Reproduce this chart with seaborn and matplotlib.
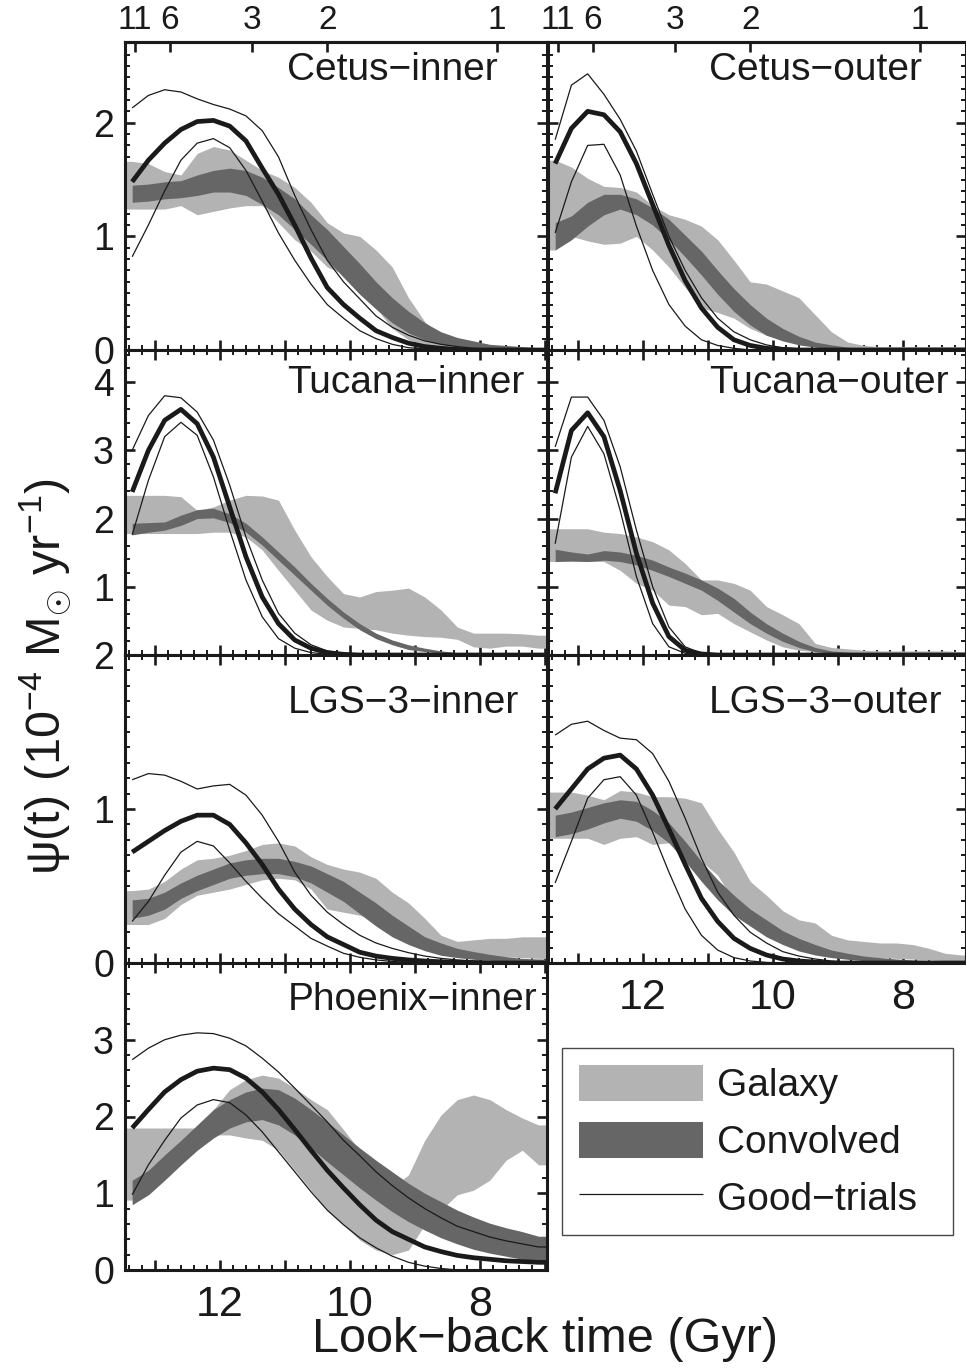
import numpy as np
import matplotlib
matplotlib.use("Agg")
import matplotlib.pyplot as plt
import seaborn as sns
from matplotlib.ticker import MultipleLocator, FuncFormatter, NullLocator
from matplotlib.patches import Patch
from matplotlib.lines import Line2D

# look-back time grid (Gyr)
T = [13.35, 13.1, 12.85, 12.6, 12.35, 12.1, 11.85, 11.6, 11.35, 11.1, 10.85, 10.6, 10.35,
     10.1, 9.85, 9.6, 9.35, 9.1, 8.85, 8.6, 8.35, 8.1, 7.85, 7.6, 7.35, 7.1]

# redshift axis on top
Z_LABELS = ["11", "6", "3", "2", "1"]
Z_TIMES = [13.31, 12.77, 11.51, 10.35, 7.74]
X_LABELED = [12, 10, 8]

# ---- Cetus-inner
cet_in_gal_lo = [1.24, 1.24, 1.24, 1.27, 1.19, 1.22, 1.25, 1.27, 1.27, 1.12, 0.97, 0.87, 0.73, 0.67, 0.57, 0.37, 0.19, 0.09, 0.04, 0.02, 0, 0, 0, 0, 0, 0]
cet_in_gal_hi = [1.66, 1.64, 1.57, 1.54, 1.73, 1.79, 1.76, 1.67, 1.58, 1.52, 1.43, 1.30, 1.12, 1.03, 1.00, 0.88, 0.73, 0.46, 0.25, 0.10, 0.06, 0.03, 0.01, 0.01, 0.01, 0.01]
cet_in_conv_lo = [1.30, 1.31, 1.33, 1.34, 1.36, 1.39, 1.39, 1.36, 1.28, 1.19, 1.06, 0.93, 0.79, 0.64, 0.49, 0.36, 0.24, 0.15, 0.09, 0.05, 0.03, 0.015, 0.01, 0.005, 0, 0]
cet_in_conv_hi = [1.45, 1.46, 1.48, 1.49, 1.54, 1.58, 1.60, 1.58, 1.52, 1.43, 1.33, 1.19, 1.06, 0.91, 0.76, 0.60, 0.46, 0.34, 0.24, 0.16, 0.11, 0.08, 0.05, 0.04, 0.03, 0.02]
cet_in_best = [1.48, 1.67, 1.82, 1.94, 2.01, 2.02, 1.97, 1.84, 1.60, 1.37, 1.10, 0.81, 0.55, 0.40, 0.28, 0.17, 0.11, 0.06, 0.03, 0.015, 0.005, 0, 0, 0, 0, 0]
cet_in_trial_hi = [2.13, 2.24, 2.29, 2.27, 2.21, 2.16, 2.12, 2.06, 1.93, 1.70, 1.36, 1.06, 0.79, 0.60, 0.45, 0.30, 0.20, 0.13, 0.08, 0.05, 0.03, 0.015, 0.008, 0, 0, 0]
cet_in_trial_lo = [0.82, 1.10, 1.40, 1.67, 1.82, 1.86, 1.78, 1.58, 1.31, 1.03, 0.79, 0.58, 0.40, 0.28, 0.17, 0.10, 0.05, 0.02, 0.01, 0, 0, 0, 0, 0, 0, 0]

# ---- Cetus-outer
cet_out_gal_lo = [0.88, 1.00, 0.96, 0.93, 0.94, 1.00, 0.88, 0.73, 0.55, 0.37, 0.33, 0.28, 0.19, 0.13, 0.09, 0.06, 0.03, 0, 0, 0, 0, 0, 0, 0, 0, 0]
cet_out_gal_hi = [1.67, 1.61, 1.51, 1.44, 1.43, 1.39, 1.27, 1.19, 1.15, 1.09, 0.97, 0.79, 0.60, 0.58, 0.52, 0.46, 0.31, 0.16, 0.07, 0.04, 0.03, 0.03, 0.03, 0.03, 0.03, 0.03]
cet_out_conv_lo = [0.88, 0.97, 1.09, 1.19, 1.24, 1.19, 1.10, 0.97, 0.82, 0.66, 0.49, 0.34, 0.22, 0.13, 0.08, 0.045, 0.025, 0.012, 0, 0, 0, 0, 0, 0, 0, 0]
cet_out_conv_hi = [1.12, 1.18, 1.30, 1.37, 1.37, 1.33, 1.25, 1.15, 1.01, 0.87, 0.70, 0.54, 0.40, 0.28, 0.19, 0.12, 0.07, 0.045, 0.025, 0.015, 0.01, 0.005, 0, 0, 0, 0]
cet_out_best = [1.64, 1.95, 2.10, 2.07, 1.92, 1.64, 1.28, 0.92, 0.61, 0.37, 0.20, 0.09, 0.04, 0.015, 0.005, 0, 0, 0, 0, 0, 0, 0, 0, 0, 0, 0]
cet_out_trial_hi = [1.85, 2.33, 2.43, 2.25, 2.03, 1.75, 1.37, 1.00, 0.70, 0.46, 0.28, 0.16, 0.09, 0.045, 0.02, 0.01, 0, 0, 0, 0, 0, 0, 0, 0, 0, 0]
cet_out_trial_lo = [1.03, 1.48, 1.80, 1.81, 1.54, 1.09, 0.70, 0.40, 0.21, 0.09, 0.04, 0.015, 0, 0, 0, 0, 0, 0, 0, 0, 0, 0, 0, 0, 0, 0]

# ---- Tucana-inner
tuc_in_gal_lo = [1.78, 1.78, 1.78, 1.78, 1.78, 1.80, 1.80, 1.73, 1.54, 1.24, 0.95, 0.66, 0.51, 0.41, 0.39, 0.37, 0.32, 0.29, 0.27, 0.26, 0.23, 0.12, 0.10, 0.13, 0.13, 0.10]
tuc_in_gal_hi = [2.34, 2.34, 2.34, 2.32, 2.12, 2.17, 2.27, 2.34, 2.33, 2.27, 1.83, 1.44, 1.15, 0.90, 0.85, 0.93, 0.95, 0.98, 0.85, 0.66, 0.41, 0.32, 0.32, 0.32, 0.31, 0.29]
tuc_in_conv_lo = [1.76, 1.80, 1.83, 1.90, 2.00, 2.01, 1.94, 1.80, 1.61, 1.39, 1.17, 0.95, 0.73, 0.54, 0.37, 0.24, 0.15, 0.08, 0.05, 0.025, 0.01, 0, 0, 0, 0, 0]
tuc_in_conv_hi = [1.93, 1.94, 1.95, 2.05, 2.13, 2.15, 2.07, 1.93, 1.73, 1.51, 1.29, 1.05, 0.83, 0.63, 0.46, 0.32, 0.22, 0.15, 0.10, 0.06, 0.035, 0.02, 0.01, 0.005, 0.005, 0.005]
tuc_in_best = [2.39, 3.00, 3.44, 3.60, 3.39, 2.90, 2.17, 1.44, 0.85, 0.46, 0.22, 0.10, 0.035, 0.01, 0, 0, 0, 0, 0, 0, 0, 0, 0, 0, 0, 0]
tuc_in_trial_hi = [3.00, 3.51, 3.80, 3.77, 3.56, 3.15, 2.49, 1.73, 1.10, 0.61, 0.32, 0.15, 0.06, 0.025, 0.01, 0, 0, 0, 0, 0, 0, 0, 0, 0, 0, 0]
tuc_in_trial_lo = [1.76, 2.56, 3.20, 3.41, 3.22, 2.61, 1.83, 1.10, 0.56, 0.24, 0.10, 0.035, 0.01, 0, 0, 0, 0, 0, 0, 0, 0, 0, 0, 0, 0, 0]

# ---- Tucana-outer
tuc_out_gal_lo = [1.37, 1.37, 1.37, 1.37, 1.24, 1.05, 0.95, 0.73, 0.71, 0.59, 0.61, 0.46, 0.34, 0.22, 0.12, 0.07, 0.05, 0.035, 0.03, 0.03, 0.03, 0.03, 0.03, 0.03, 0.03, 0.03]
tuc_out_gal_hi = [1.85, 1.85, 1.85, 1.80, 1.78, 1.73, 1.66, 1.54, 1.34, 1.10, 1.10, 1.05, 0.95, 0.71, 0.59, 0.46, 0.17, 0.11, 0.09, 0.07, 0.06, 0.06, 0.06, 0.06, 0.06, 0.05]
tuc_out_conv_lo = [1.37, 1.38, 1.37, 1.39, 1.37, 1.32, 1.24, 1.15, 1.05, 0.95, 0.80, 0.63, 0.46, 0.32, 0.20, 0.11, 0.05, 0.025, 0.01, 0, 0, 0, 0, 0, 0, 0]
tuc_out_conv_hi = [1.55, 1.51, 1.48, 1.53, 1.51, 1.46, 1.39, 1.29, 1.20, 1.10, 0.98, 0.83, 0.63, 0.46, 0.32, 0.20, 0.11, 0.06, 0.04, 0.025, 0.015, 0.01, 0.005, 0.005, 0.005, 0.005]
tuc_out_best = [2.37, 3.29, 3.55, 3.20, 2.41, 1.49, 0.76, 0.27, 0.07, 0.015, 0, 0, 0, 0, 0, 0, 0, 0, 0, 0, 0, 0, 0, 0, 0, 0]
tuc_out_trial_hi = [3.05, 3.78, 3.78, 3.44, 2.76, 1.83, 1.00, 0.41, 0.12, 0.025, 0.005, 0, 0, 0, 0, 0, 0, 0, 0, 0, 0, 0, 0, 0, 0, 0]
tuc_out_trial_lo = [1.63, 2.90, 3.35, 2.95, 2.12, 1.15, 0.46, 0.12, 0.025, 0, 0, 0, 0, 0, 0, 0, 0, 0, 0, 0, 0, 0, 0, 0, 0, 0]

# ---- LGS-3-inner
lgs_in_gal_lo = [0.25, 0.25, 0.29, 0.38, 0.44, 0.46, 0.48, 0.51, 0.54, 0.55, 0.54, 0.48, 0.35, 0.33, 0.31, 0.28, 0.23, 0.17, 0.13, 0.095, 0.07, 0.05, 0.04, 0.04, 0.035, 0.03]
lgs_in_gal_hi = [0.47, 0.48, 0.53, 0.61, 0.67, 0.68, 0.70, 0.73, 0.77, 0.78, 0.76, 0.69, 0.64, 0.61, 0.59, 0.55, 0.46, 0.39, 0.29, 0.18, 0.14, 0.15, 0.16, 0.16, 0.17, 0.17]
lgs_in_conv_lo = [0.29, 0.31, 0.35, 0.42, 0.47, 0.51, 0.55, 0.57, 0.58, 0.58, 0.56, 0.52, 0.46, 0.40, 0.32, 0.24, 0.17, 0.12, 0.08, 0.05, 0.035, 0.024, 0.017, 0.012, 0.01, 0.008]
lgs_in_conv_hi = [0.41, 0.42, 0.46, 0.52, 0.57, 0.61, 0.65, 0.67, 0.68, 0.68, 0.66, 0.63, 0.58, 0.53, 0.46, 0.39, 0.31, 0.24, 0.17, 0.13, 0.095, 0.074, 0.056, 0.041, 0.03, 0.026]
lgs_in_best = [0.72, 0.79, 0.86, 0.92, 0.96, 0.96, 0.90, 0.78, 0.64, 0.48, 0.35, 0.25, 0.17, 0.12, 0.07, 0.045, 0.03, 0.02, 0.013, 0.008, 0.005, 0.003, 0, 0, 0, 0]
lgs_in_trial_hi = [1.19, 1.23, 1.22, 1.18, 1.13, 1.15, 1.16, 1.09, 0.96, 0.79, 0.59, 0.44, 0.33, 0.25, 0.18, 0.13, 0.095, 0.067, 0.045, 0.03, 0.02, 0.013, 0.009, 0.005, 0.003, 0.002]
lgs_in_trial_lo = [0.27, 0.40, 0.57, 0.72, 0.79, 0.76, 0.65, 0.53, 0.42, 0.32, 0.24, 0.16, 0.11, 0.063, 0.037, 0.02, 0.01, 0.005, 0, 0, 0, 0, 0, 0, 0, 0]

# ---- LGS-3-outer
lgs_out_gal_lo = [0.81, 0.81, 0.81, 0.77, 0.81, 0.82, 0.77, 0.78, 0.72, 0.66, 0.57, 0.40, 0.27, 0.20, 0.15, 0.12, 0.09, 0.067, 0.052, 0.04, 0.035, 0.03, 0.025, 0.02, 0.015, 0.01]
lgs_out_gal_hi = [1.11, 1.11, 1.09, 1.06, 1.12, 1.11, 1.08, 1.08, 1.07, 1.04, 0.87, 0.72, 0.53, 0.44, 0.34, 0.28, 0.26, 0.18, 0.15, 0.14, 0.13, 0.13, 0.12, 0.095, 0.063, 0.052]
lgs_out_conv_lo = [0.82, 0.84, 0.87, 0.91, 0.94, 0.92, 0.86, 0.78, 0.66, 0.53, 0.41, 0.31, 0.24, 0.17, 0.12, 0.078, 0.052, 0.035, 0.024, 0.015, 0.01, 0.005, 0.005, 0.005, 0.005, 0.005]
lgs_out_conv_hi = [0.96, 0.98, 1.01, 1.04, 1.06, 1.05, 0.99, 0.91, 0.79, 0.66, 0.54, 0.44, 0.35, 0.28, 0.21, 0.16, 0.12, 0.084, 0.063, 0.045, 0.035, 0.026, 0.02, 0.016, 0.012, 0.01]
lgs_out_best = [1.00, 1.13, 1.26, 1.33, 1.35, 1.26, 1.09, 0.87, 0.64, 0.42, 0.27, 0.16, 0.095, 0.052, 0.026, 0.013, 0.006, 0, 0, 0, 0, 0, 0, 0, 0, 0]
lgs_out_trial_hi = [1.48, 1.55, 1.57, 1.51, 1.46, 1.45, 1.36, 1.18, 0.94, 0.68, 0.46, 0.31, 0.20, 0.13, 0.074, 0.045, 0.026, 0.013, 0.006, 0.003, 0, 0, 0, 0, 0, 0]
lgs_out_trial_lo = [0.52, 0.79, 1.07, 1.19, 1.21, 1.09, 0.85, 0.59, 0.35, 0.18, 0.084, 0.035, 0.013, 0.004, 0, 0, 0, 0, 0, 0, 0, 0, 0, 0, 0, 0]

# ---- Phoenix-inner
phx_in_gal_lo = [0.91, 1.11, 1.37, 1.63, 1.76, 1.76, 1.76, 1.72, 1.69, 1.56, 1.30, 1.04, 0.78, 0.59, 0.39, 0.26, 0.20, 0.26, 0.59, 0.78, 0.98, 1.04, 1.17, 1.43, 1.56, 1.37]
phx_in_gal_hi = [1.85, 1.85, 1.85, 1.85, 1.85, 2.09, 2.35, 2.48, 2.54, 2.50, 2.37, 2.22, 2.09, 1.83, 1.56, 1.30, 1.07, 1.24, 1.69, 2.02, 2.22, 2.28, 2.22, 2.09, 1.98, 1.89]
phx_in_conv_lo = [0.85, 0.98, 1.17, 1.37, 1.56, 1.72, 1.85, 1.93, 1.96, 1.89, 1.76, 1.59, 1.41, 1.24, 1.07, 0.91, 0.76, 0.63, 0.52, 0.42, 0.34, 0.27, 0.22, 0.18, 0.14, 0.12]
phx_in_conv_hi = [1.17, 1.30, 1.50, 1.69, 1.89, 2.09, 2.22, 2.32, 2.37, 2.35, 2.24, 2.09, 1.93, 1.76, 1.59, 1.43, 1.28, 1.13, 1.00, 0.89, 0.78, 0.69, 0.61, 0.55, 0.50, 0.44]
phx_in_best = [1.85, 2.09, 2.32, 2.48, 2.59, 2.63, 2.61, 2.50, 2.32, 2.09, 1.83, 1.56, 1.30, 1.07, 0.85, 0.65, 0.50, 0.40, 0.30, 0.24, 0.19, 0.16, 0.14, 0.12, 0.11, 0.10]
phx_in_trial_hi = [2.74, 2.89, 3.00, 3.06, 3.09, 3.08, 3.02, 2.92, 2.76, 2.58, 2.37, 2.15, 1.93, 1.69, 1.49, 1.28, 1.10, 0.94, 0.80, 0.68, 0.57, 0.50, 0.43, 0.38, 0.34, 0.30]
phx_in_trial_lo = [0.98, 1.37, 1.69, 1.98, 2.15, 2.22, 2.18, 2.02, 1.80, 1.54, 1.28, 1.02, 0.78, 0.59, 0.42, 0.29, 0.18, 0.10, 0.05, 0.02, 0, 0, 0, 0, 0, 0]

NAMES = ["Cetus\u2212inner", "Cetus\u2212outer", "Tucana\u2212inner", "Tucana\u2212outer",
         "LGS\u22123\u2212inner", "LGS\u22123\u2212outer", "Phoenix\u2212inner"]
SERIES = [
    (cet_in_gal_lo, cet_in_gal_hi, cet_in_conv_lo, cet_in_conv_hi, cet_in_best, cet_in_trial_hi, cet_in_trial_lo),
    (cet_out_gal_lo, cet_out_gal_hi, cet_out_conv_lo, cet_out_conv_hi, cet_out_best, cet_out_trial_hi, cet_out_trial_lo),
    (tuc_in_gal_lo, tuc_in_gal_hi, tuc_in_conv_lo, tuc_in_conv_hi, tuc_in_best, tuc_in_trial_hi, tuc_in_trial_lo),
    (tuc_out_gal_lo, tuc_out_gal_hi, tuc_out_conv_lo, tuc_out_conv_hi, tuc_out_best, tuc_out_trial_hi, tuc_out_trial_lo),
    (lgs_in_gal_lo, lgs_in_gal_hi, lgs_in_conv_lo, lgs_in_conv_hi, lgs_in_best, lgs_in_trial_hi, lgs_in_trial_lo),
    (lgs_out_gal_lo, lgs_out_gal_hi, lgs_out_conv_lo, lgs_out_conv_hi, lgs_out_best, lgs_out_trial_hi, lgs_out_trial_lo),
    (phx_in_gal_lo, phx_in_gal_hi, phx_in_conv_lo, phx_in_conv_hi, phx_in_best, phx_in_trial_hi, phx_in_trial_lo),
]

# ---- layout (pixels of the 966x1368 figure)
W, H = 966, 1368
COL_X = [(125, 422), (548, 418)]
ROW_Y = [(42, 350), (350, 655), (655, 963), (963, 1270)]
XLIM = [(13.46, 6.97), (13.46, 7.03)]
YMAX = [2.71, 4.47, 2.0, 4.0]
YMINOR = [0.1, 0.2, 0.1, 0.2]
YHIDE = [[], [0], [], [4]]
NAME_Y = [0.909, 0.892, 0.844, 0.879]

GAL_C = "#b3b3b3"
CONV_C = "#666666"

sns.set_theme(style="ticks")
plt.rcParams.update({
    "font.family": ["Liberation Sans", "DejaVu Sans"],
    "mathtext.fontset": "custom",
    "mathtext.rm": "Liberation Sans",
    "mathtext.it": "Liberation Sans",
    "text.color": "black",
    "axes.labelcolor": "black",
    "axes.edgecolor": "black",
    "xtick.color": "black",
    "ytick.color": "black",
    "xtick.labelcolor": "black",
    "ytick.labelcolor": "black",
    "lines.solid_joinstyle": "round",
    "lines.solid_capstyle": "butt",
})

fig = plt.figure(figsize=(W / 100, H / 100), dpi=100)


def style_axes(ax, row, col):
    ax.set_xlim(*XLIM[col])
    ax.set_ylim(0, YMAX[row])
    ax.xaxis.set_major_locator(MultipleLocator(1))
    ax.xaxis.set_minor_locator(MultipleLocator(0.2))
    ax.yaxis.set_major_locator(MultipleLocator(1))
    ax.yaxis.set_minor_locator(MultipleLocator(YMINOR[row]))
    ax.xaxis.set_major_formatter(FuncFormatter(
        lambda v, p: f"{v:.0f}" if int(round(v)) in X_LABELED else ""))
    hide = YHIDE[row]
    ax.yaxis.set_major_formatter(FuncFormatter(
        lambda v, p: "" if int(round(v)) in hide else f"{v:.0f}"))
    for s in ax.spines.values():
        s.set_linewidth(2.2)
        s.set_color("k")
    ax.tick_params(which="both", direction="in", top=row > 0, right=True,
                   bottom=True, left=True, color="k", labelcolor="k")
    ax.tick_params(which="major", length=7.5, width=1.9)
    ax.tick_params(which="minor", length=3.8, width=1.4)
    show_x = (row == 3 and col == 0) or (row == 2 and col == 1)
    ax.tick_params(axis="x", labelbottom=show_x, labelsize=31, pad=11)
    ax.tick_params(axis="y", labelleft=(col == 0), labelsize=27, pad=8)
    ax.set_xlabel("")
    ax.set_ylabel("")


for i, (name, ser) in enumerate(zip(NAMES, SERIES)):
    row, col = divmod(i, 2)
    x0, w = COL_X[col]
    top, bot = ROW_Y[row]
    ax = fig.add_axes([x0 / W, 1 - bot / H, w / W, (bot - top) / H])
    gal_lo, gal_hi, conv_lo, conv_hi, best, tr_hi, tr_lo = [np.asarray(s, float) for s in ser]
    xl, xr = XLIM[col]
    tg = np.r_[xl, T, xr]
    tc = np.r_[T, xr]
    ext = lambda v: np.r_[v, v[-1]]
    ax.fill_between(tg, np.r_[gal_lo[0], gal_lo, gal_lo[-1]], np.r_[gal_hi[0], gal_hi, gal_hi[-1]],
                    color=GAL_C, lw=0, zorder=1)
    ax.fill_between(tc, ext(conv_lo), ext(conv_hi), color=CONV_C, lw=0, zorder=2)
    for vals, lw in [(tr_hi, 0.9), (tr_lo, 0.9), (best, 3.4)]:
        sns.lineplot(x=tc, y=ext(vals), ax=ax, color="k", lw=lw, zorder=3,
                     estimator=None, sort=False, legend=False)
    style_axes(ax, row, col)
    ax.text(0.385, NAME_Y[row], name, transform=ax.transAxes, ha="left", va="center",
            fontsize=28, color="k", zorder=5)
    if row == 0:
        ax.tick_params(which="both", top=False)
        sec = ax.secondary_xaxis("top")
        sec.set_xticks(Z_TIMES, labels=Z_LABELS)
        sec.xaxis.set_minor_locator(NullLocator())
        sec.tick_params(direction="in", length=7.5, width=1.9, labelsize=24, pad=4,
                        color="k", labelcolor="k")
        sec.spines["top"].set_linewidth(2.2)
        sec.spines["top"].set_color("k")

# legend panel
x0, w = COL_X[1]
top, bot = ROW_Y[3]
lax = fig.add_axes([x0 / W, 1 - bot / H, w / W, (bot - top) / H])
lax.axis("off")
handles = [Patch(facecolor=GAL_C, edgecolor="none"),
           Patch(facecolor=CONV_C, edgecolor="none"),
           Line2D([], [], color="k", lw=0.9)]
leg = lax.legend(handles, ["Galaxy", "Convolved", "Good\u2212trials"], loc="upper left",
                 bbox_to_anchor=(0.033, 0.114, 0.936, 0.609), mode="expand", borderaxespad=0,
                 frameon=True, fancybox=False, edgecolor="k", fontsize=28,
                 handlelength=3.2, handleheight=1.04, labelspacing=0.45,
                 handletextpad=0.36, borderpad=0.44, labelcolor="k")
leg.get_frame().set_linewidth(1.0)

fig.text(45 / W, 1 - 677 / H, "\u03c8(t) (10$^{-4}$ M$_{\\odot}$ yr$^{-1}$)", rotation=90,
         ha="center", va="center", fontsize=35, color="k")
fig.text(545 / W, 1 - 1339 / H, "Look\u2212back time (Gyr)", ha="center", va="center",
         fontsize=35, color="k")

fig.savefig("out.png", dpi=100)
